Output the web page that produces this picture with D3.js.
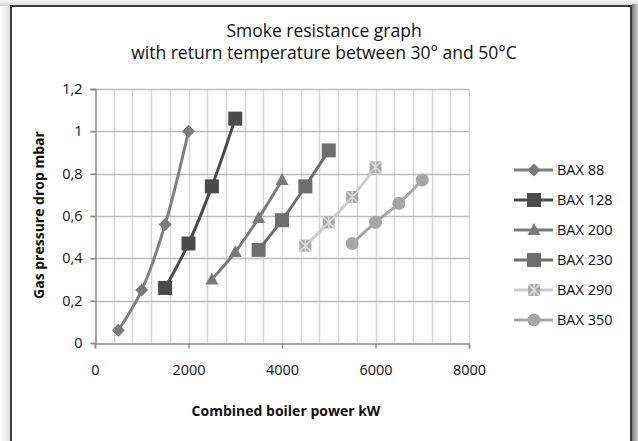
<!DOCTYPE html>
<html>
<head>
<meta charset="utf-8">
<script src="https://cdn.jsdelivr.net/npm/d3@7"></script>
<style>
  html, body { margin: 0; padding: 0; background: #fff; }
  svg { display: block; font-family: "Open Sans", "Noto Sans", sans-serif; }
</style>
</head>
<body>
<svg id="chart"></svg>
<script>
var width = 638,
    height = 441;

// data
var seriesNames = ['BAX 88', 'BAX 128', 'BAX 200', 'BAX 230', 'BAX 290', 'BAX 350'];
var bax88x = [500, 1000, 1500, 2000],   bax88y = [0.06, 0.25, 0.56, 1.0];
var bax128x = [1500, 2000, 2500, 3000], bax128y = [0.26, 0.47, 0.74, 1.06];
var bax200x = [2500, 3000, 3500, 4000], bax200y = [0.30, 0.43, 0.59, 0.77];
var bax230x = [3500, 4000, 4500, 5000], bax230y = [0.44, 0.58, 0.74, 0.91];
var bax290x = [4500, 5000, 5500, 6000], bax290y = [0.46, 0.57, 0.69, 0.83];
var bax350x = [5500, 6000, 6500, 7000], bax350y = [0.47, 0.57, 0.66, 0.77];
var xTicks = [0, 2000, 4000, 6000, 8000];
var yTicks = [0, 0.2, 0.4, 0.6, 0.8, 1, 1.2];

var allX = [bax88x, bax128x, bax200x, bax230x, bax290x, bax350x];
var allY = [bax88y, bax128y, bax200y, bax230y, bax290y, bax350y];
var lineColors = ['#808080', '#4b4b4b', '#7a7a7a', '#6e6e6e', '#cdcdcd', '#a6a6a6'];
var markerColors = ['#7b7b7b', '#4b4b4b', '#7a7a7a', '#6e6e6e', '#aaaaaa', '#a6a6a6'];
var markerShapes = ['diamond', 'square', 'triangle', 'square', 'xsquare', 'circle'];

var series = seriesNames.map(function (name, i) {
    return {
        name: name,
        color: lineColors[i],
        markerColor: markerColors[i],
        shape: markerShapes[i],
        points: allX[i].map(function (x, j) { return {x: x, y: allY[i][j]}; })
    };
});

var svg = d3.select('svg#chart')
    .attr('width', width)
    .attr('height', height);

// background + frame with shadow
var defs = svg.append('defs');
var gTop = defs.append('linearGradient').attr('id', 'gTop').attr('x1', 0).attr('y1', 0).attr('x2', 0).attr('y2', 1);
gTop.append('stop').attr('offset', 0).attr('stop-color', '#f4f4f4');
gTop.append('stop').attr('offset', 1).attr('stop-color', '#d8d8d8');
var gLeft = defs.append('linearGradient').attr('id', 'gLeft').attr('x1', 0).attr('y1', 0).attr('x2', 1).attr('y2', 0);
gLeft.append('stop').attr('offset', 0).attr('stop-color', '#ffffff');
gLeft.append('stop').attr('offset', 1).attr('stop-color', '#e0e0e0');
var gRight = defs.append('linearGradient').attr('id', 'gRight').attr('x1', 0).attr('y1', 0).attr('x2', 1).attr('y2', 0);
gRight.append('stop').attr('offset', 0).attr('stop-color', '#7a7a7a');
gRight.append('stop').attr('offset', 1).attr('stop-color', '#d0d0d0');

svg.append('rect').attr('x', 0).attr('y', 0).attr('width', width).attr('height', height).attr('fill', '#fff');
svg.append('rect').attr('x', 0).attr('y', 0).attr('width', width).attr('height', 6).attr('fill', 'url(#gTop)');
svg.append('rect').attr('x', 0).attr('y', 6).attr('width', 10).attr('height', height).attr('fill', 'url(#gLeft)');
svg.append('rect').attr('x', 632).attr('y', 4).attr('width', 6).attr('height', height).attr('fill', 'url(#gRight)');
svg.append('rect')
    .attr('x', 11).attr('y', 6)
    .attr('width', 620).attr('height', 450)
    .attr('fill', '#fff')
    .attr('stroke', '#3c3c3c')
    .attr('stroke-width', 2);

var x = d3.scaleLinear().domain([0, 8000]).range([95, 469]);
var y = d3.scaleLinear().domain([0, 1.2]).range([343, 89]);

// title
var title = svg.append('text')
    .attr('text-anchor', 'middle')
    .attr('font-size', 17.5).attr('fill', '#111');
title.append('tspan').attr('x', 324).attr('y', 37).text('Smoke resistance graph');
title.append('tspan').attr('x', 324).attr('y', 59).text('with return temperature between 30° and 50°C');

// grid
var grid = svg.append('g');
grid.selectAll('line.vminor')
    .data(d3.range(400, 8001, 400))
    .enter().append('line')
    .attr('x1', function (d) { return Math.round(x(d)) + 0.5; })
    .attr('x2', function (d) { return Math.round(x(d)) + 0.5; })
    .attr('y1', y(1.2)).attr('y2', y(0))
    .attr('stroke', '#d6d6d6').attr('stroke-width', 1.5);
grid.selectAll('line.h')
    .data(yTicks.slice(1))
    .enter().append('line')
    .attr('x1', x(0) - 5).attr('x2', x(8000))
    .attr('y1', function (d) { return Math.round(y(d)) + 0.5; })
    .attr('y2', function (d) { return Math.round(y(d)) + 0.5; })
    .attr('stroke', '#bdbdbd').attr('stroke-width', 1.5);

// axes
var xAxis = svg.append('g')
    .attr('transform', 'translate(0,' + (y(0) + 0.5) + ')')
    .call(d3.axisBottom(x).tickValues(xTicks).tickSize(5).tickPadding(13).tickFormat(d3.format('d')));
var yAxis = svg.append('g')
    .attr('transform', 'translate(' + (x(0) + 0.5) + ',0)')
    .call(d3.axisLeft(y).tickValues(yTicks).tickSize(5).tickPadding(8)
        .tickFormat(function (d) { return String(d).replace('.', ','); }));
[xAxis, yAxis].forEach(function (a) {
    a.select('.domain').attr('stroke', '#8c8c8c').attr('stroke-width', 1.5);
    a.selectAll('.tick line').attr('stroke', '#8c8c8c').attr('stroke-width', 1.5);
    a.selectAll('.tick text').attr('fill', '#111').attr('font-size', 14.5)
        .attr('font-family', '"Open Sans", "Noto Sans", sans-serif');
});
xAxis.selectAll('.tick text').attr('dy', '0.9em');

// axis titles
svg.append('text')
    .attr('x', 286).attr('y', 416)
    .attr('text-anchor', 'middle')
    .attr('font-size', 14).attr('font-weight', 'bold').attr('fill', '#111')
    .text('Combined boiler power kW');
svg.append('text')
    .attr('transform', 'translate(44,215) rotate(-90)')
    .attr('text-anchor', 'middle')
    .attr('font-size', 14).attr('font-weight', 'bold').attr('fill', '#111')
    .text('Gas pressure drop mbar');

// markers
function drawMarker(g, shape, fill, cx, cy) {
    if (shape === 'diamond') {
        g.append('path').attr('d', 'M' + cx + ',' + (cy - 6.5) + 'L' + (cx + 6.5) + ',' + cy + 'L' + cx + ',' + (cy + 6.5) + 'L' + (cx - 6.5) + ',' + cy + 'Z')
            .attr('fill', fill);
    } else if (shape === 'square') {
        g.append('rect').attr('x', cx - 7).attr('y', cy - 7).attr('width', 14).attr('height', 14)
            .attr('fill', fill);
    } else if (shape === 'triangle') {
        g.append('path').attr('d', 'M' + cx + ',' + (cy - 7) + 'L' + (cx + 6.5) + ',' + (cy + 5) + 'L' + (cx - 6.5) + ',' + (cy + 5) + 'Z')
            .attr('fill', fill);
    } else if (shape === 'xsquare') {
        g.append('rect').attr('x', cx - 6).attr('y', cy - 6).attr('width', 12).attr('height', 12)
            .attr('fill', fill);
        g.append('path').attr('d', 'M' + (cx - 6) + ',' + (cy - 6) + 'L' + (cx + 6) + ',' + (cy + 6) + 'M' + (cx + 6) + ',' + (cy - 6) + 'L' + (cx - 6) + ',' + (cy + 6) + 'M' + cx + ',' + (cy - 6) + 'L' + cx + ',' + (cy + 6))
            .attr('stroke', '#dadada').attr('stroke-width', 1.5);
    } else {
        g.append('circle').attr('cx', cx).attr('cy', cy).attr('r', 6.5).attr('fill', fill);
    }
}

// series lines
var line = d3.line()
    .x(function (d) { return x(d.x); })
    .y(function (d) { return y(d.y); })
    .curve(d3.curveCatmullRom.alpha(0.5));

var plot = svg.append('g');
series.forEach(function (s) {
    var g = plot.append('g');
    g.append('path')
        .attr('d', line(s.points))
        .attr('fill', 'none')
        .attr('stroke', s.color)
        .attr('stroke-width', 3);
    s.points.forEach(function (p) {
        drawMarker(g, s.shape, s.markerColor, x(p.x), y(p.y));
    });
});

// legend
var legend = svg.append('g');
series.forEach(function (s, i) {
    var ly = 170 + i * 30;
    var g = legend.append('g');
    g.append('line')
        .attr('x1', 514).attr('x2', 553)
        .attr('y1', ly).attr('y2', ly)
        .attr('stroke', s.color).attr('stroke-width', 3);
    drawMarker(g, s.shape, s.markerColor, 534, ly);
    g.append('text')
        .attr('x', 557).attr('y', ly + 5)
        .attr('font-size', 14.5).attr('fill', '#111')
        .text(s.name);
});
</script>
</body>
</html>
